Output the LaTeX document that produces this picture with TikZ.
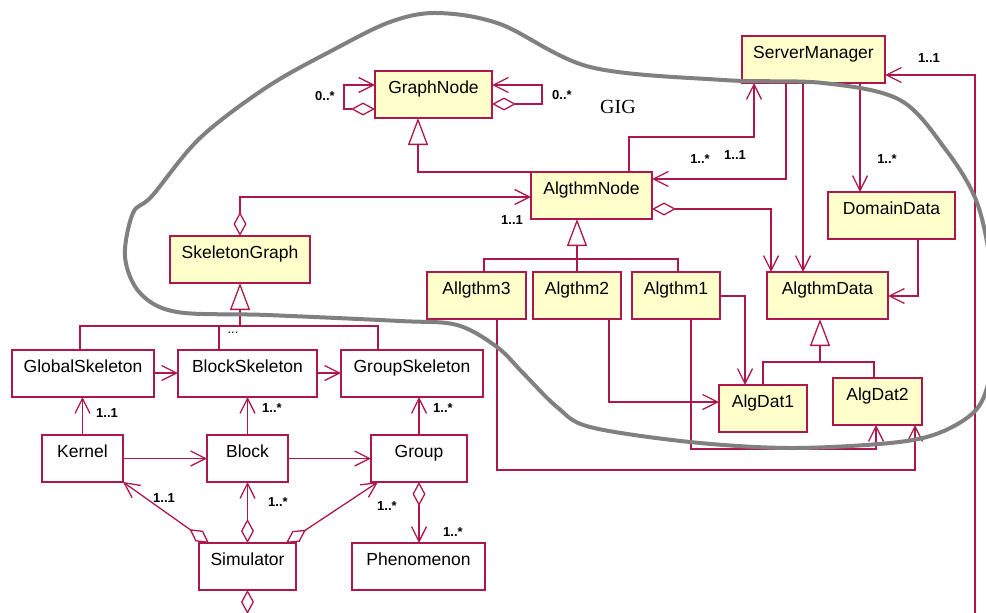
\documentclass[tikz,border=0pt]{standalone}
\usepackage{fontspec}
\setmainfont{Liberation Sans}
\newfontfamily\gigserif{Liberation Serif}
\usetikzlibrary{arrows.meta}
\definecolor{umlred}{RGB}{172,24,76}
\definecolor{umlyellow}{RGB}{255,255,204}
\definecolor{bloblgray}{RGB}{128,128,128}
\tikzset{
  cls/.style={draw=umlred, line width=1.3pt, rectangle, anchor=north west,
    minimum height=47pt, inner xsep=0pt, inner ysep=0pt, outer sep=0pt,
    text height=22.5pt, text depth=24.5pt, font=\fontsize{17.5}{20}\selectfont},
  ycls/.style={cls, fill=umlyellow},
  wcls/.style={cls, fill=white},
  ln/.style={draw=umlred, line width=1.3pt, line join=miter},
  assoc/.style={ln, -{Straight Barb[length=15pt,width=15pt]}},
  aggr/.style={ln, {Diamond[fill=white,length=24pt,width=13pt]}-{Straight Barb[length=15pt,width=15pt]}},
  aggrend/.style={ln, {Diamond[fill=white,length=24pt,width=13pt]}-},
  gener/.style={ln, {Triangle[fill=white,length=27pt,width=20pt]}-},
  mult/.style={font=\bfseries\fontsize{13}{14}\selectfont, inner sep=0pt},
  blob/.style={draw=bloblgray, line width=4pt},
}
\begin{document}
\begin{tikzpicture}[x=1pt,y=-1pt]
\useasboundingbox (0,0) rectangle (986,613);

% ---- classes of the algorithm graph ----
\node[ycls, minimum width=117pt] (gn) at (375,71) {GraphNode};
\node[ycls, minimum width=143pt] (sm) at (742,36) {ServerManager};
\node[ycls, minimum width=121pt] (an) at (531,172) {AlgthmNode};
\node[ycls, minimum width=127pt] (dd) at (828,192) {DomainData};
\node[ycls, minimum width=140pt] (sg) at (170,236) {SkeletonGraph};
\node[ycls, minimum width=99pt] (a3) at (427,272) {Allgthm3};
\node[ycls, minimum width=88pt] (a2) at (533,272) {Algthm2};
\node[ycls, minimum width=88pt] (a1) at (632,272) {Algthm1};
\node[ycls, minimum width=121pt] (ad) at (767,272) {AlgthmData};
\node[ycls, minimum width=88pt] (d1) at (719,385) {AlgDat1};
\node[ycls, minimum width=89pt] (d2) at (833,378) {AlgDat2};

% ---- simulation classes ----
\node[wcls, minimum width=142pt] (gs) at (12,350) {GlobalSkeleton};
\node[wcls, minimum width=139pt] (bs) at (178,350) {BlockSkeleton};
\node[wcls, minimum width=142pt] (ps) at (341,350) {GroupSkeleton};
\node[wcls, minimum width=81pt] (ke) at (42,435) {Kernel};
\node[wcls, minimum width=81pt] (bl) at (207,435) {Block};
\node[wcls, minimum width=96pt] (gr) at (371,435) {Group};
\node[wcls, minimum width=97pt] (si) at (199,543) {Simulator};
\node[wcls, minimum width=133pt] (ph) at (352,543) {Phenomenon};

% ---- GraphNode self associations ----
\draw[aggr] (gn.west |- 0,109) -- (344,109) -- (344,85) -- (gn.west |- 0,85);
\draw[aggr] (gn.east |- 0,104) -- (542,104) -- (542,85) -- (gn.east |- 0,85);
\node[mult] (m1) at (325,96) {0..*};
\node[mult] (m2) at (562,95) {0..*};

% ---- inheritance GraphNode <- AlgthmNode ----
\draw[gener] (gn.south -| 418,0) |- (an.north west);

% ---- SkeletonGraph aggregates AlgthmNode ----
\draw[aggr] (sg.north) |- (an.west |- 0,197);
\node[mult] (m3) at (512,220) {1..1};

% ---- AlgthmNode <-> ServerManager ----
\draw[assoc] (an.north -| 629,0) -- (629,137) -| (sm.south -| 754,0);
\draw[assoc] (sm.south -| 786,0) |- (an.east |- 0,179);
\node[mult] (m4) at (700,159) {1..*};
\node[mult] (m5) at (735,155) {1..1};

% ---- ServerManager to data ----
\draw[assoc] (sm.south -| 803,0) -- (ad.north -| 803,0);
\draw[assoc] (sm.south -| 860,0) -- (dd.north -| 860,0);
\node[mult] (m6) at (887,159) {1..*};

% ---- AlgthmNode aggregates AlgthmData ----
\draw[aggr] (an.east |- 0,209) -| (ad.north -| 771,0);

% ---- DomainData to AlgthmData ----
\draw[assoc] (dd.south -| 918,0) |- (ad.east |- 0,296);

% ---- inheritance of the algorithms ----
\draw[gener] (an.south -| a2.north) -- (a2.north);
\draw[ln] (a3.north -| 484,0) |- (577,259) -| (a1.north -| 678,0);

% ---- inheritance of the algorithm data ----
\draw[gener] (ad.south -| 820,0) -- (820,362);
\draw[ln] (d1.north -| 763,0) |- (820,362) -| (d2.north -| 874,0);

% ---- algorithms use their data ----
\draw[assoc] (a1.east |- 0,296) -| (d1.north -| 745,0);
\draw[assoc] (a2.south -| 609,0) |- (d1.west |- 0,402);
\draw[assoc] (a1.south -| 691,0) |- (876,449) -- (d2.south -| 876,0);
\draw[assoc] (a3.south -| 497,0) |- (915,470) -- (d2.south -| 915,0);

% ---- inheritance of the skeletons ----
\draw[gener] (sg.south) -- (sg.south |- 0,326);
\draw[ln] (gs.north -| 80,0) |- (378,326) -- (ps.north -| 378,0);
\draw[ln] (bs.north -| 219,0) -- (219,326);
\node[font=\fontsize{13}{14}\selectfont, inner sep=0pt] (dots) at (233,333) {...};

% ---- skeleton chain ----
\draw[assoc] (gs.east |- 0,373) -- (bs.west |- 0,373);
\draw[assoc] (bs.east |- 0,373) -- (ps.west |- 0,373);

% ---- simulation objects to skeletons ----
\draw[assoc] (ke.north) -- (gs.south -| ke.north);
\draw[assoc] (bl.north) -- (bs.south -| bl.north);
\draw[assoc] (gr.north) -- (ps.south -| gr.north);
\node[mult] (m7) at (107,413) {1..1};
\node[mult] (m8) at (272,408) {1..*};
\node[mult] (m9) at (443,408) {1..*};

\draw[assoc] (ke.east) -- (bl.west);
\draw[assoc] (bl.east) -- (gr.west);

% ---- Simulator aggregations ----
\draw[aggr] (si.north -| 209,0) -- (ke.south east);
\draw[aggr] (si.north) -- (bl.south);
\draw[aggr] (si.north -| 286,0) -- (gr.south -| 378,0);
\node[mult] (m10) at (164,498) {1..1};
\node[mult] (m11) at (278,502) {1..*};
\node[mult] (m12) at (387,506) {1..*};

\draw[aggr] (gr.south) -- (ph.north -| gr.south);
\node[mult] (m13) at (453,532) {1..*};

\draw[aggrend] (si.south) -- (si.south |- 0,625);

% ---- link from below to ServerManager ----
\draw[assoc] (975,625) |- (sm.east |- 0,75);
\node[mult] (m14) at (929,58) {1..1};

% ---- GIG boundary ----
\draw[blob] plot[smooth cycle, tension=0.55] coordinates {
  (437,13) (500,24) (590,67) (723,80) (823,83) (900,100) (946,150)
  (976,200) (990,260) (994,320) (990,375) (976,410) (939,433) (890,443)
  (790,448) (690,442) (590,427) (557,407) (523,373) (497,347) (457,325)
  (400,321) (267,315) (177,312) (140,293) (125,257) (133,213) (152,196)
  (200,138) (267,87) (333,50) (390,22)};
\node[font=\gigserif\fontsize{20}{22}\selectfont, inner sep=0pt] (gig) at (618,107) {GIG};
\end{tikzpicture}
\end{document}
